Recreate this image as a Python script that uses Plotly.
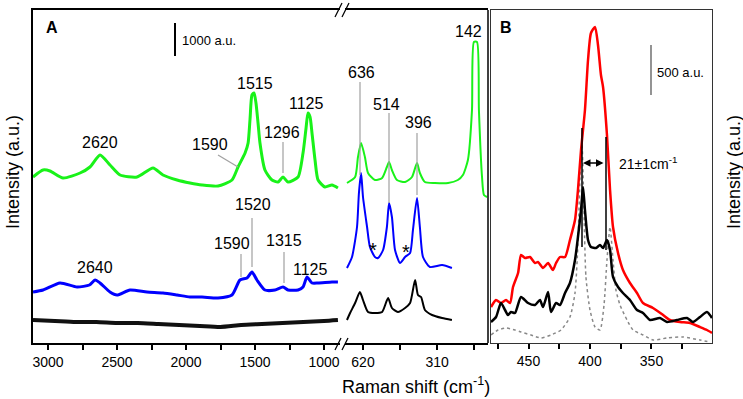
import plotly.graph_objects as go

# ---------------- data ----------------
# Panel A, left segment (3100-900 cm-1)
green_left_w = [3109, 3036, 2986, 2891, 2768, 2696, 2623, 2551, 2478, 2355, 2239, 2167, 2065, 1971,
                1884, 1768, 1667, 1623, 1572, 1550, 1536, 1522, 1507, 1493, 1478, 1464, 1428, 1377,
                1333, 1297, 1261, 1188, 1152, 1130, 1116, 1101, 1087, 1065, 1043, 993, 942, 899]
green_left_i = [4980, 5190, 5160, 4950, 5100, 5280, 5640, 5340, 5040, 4980, 5250, 5040, 4890, 4800,
                4740, 4710, 4890, 5280, 5700, 6000, 6720, 7440, 7500, 7200, 6600, 6000, 5190, 4890,
                4830, 4980, 4830, 4980, 5700, 6450, 6900, 6780, 6300, 5490, 4890, 4680, 4740, 4650]

blue_left_w = [3109, 3036, 2913, 2790, 2700, 2659, 2623, 2551, 2500, 2406, 2283, 2167, 2065, 1971,
               1884, 1768, 1667, 1609, 1558, 1522, 1486, 1428, 1355, 1297, 1261, 1188, 1152, 1123,
               1087, 1043, 942, 899]
blue_left_i = [1530, 1590, 1800, 1680, 1740, 1890, 1800, 1530, 1440, 1590, 1530, 1500, 1440, 1380,
               1380, 1350, 1440, 1890, 1950, 2130, 1890, 1590, 1590, 1680, 1590, 1590, 1680, 1980,
               1800, 1800, 1830, 1830]

black_left_w = [3109, 2950, 2800, 2650, 2500, 2350, 2200, 2050, 1900, 1750, 1600, 1450, 1300, 1150, 1000, 899]
black_left_i = [690, 660, 630, 630, 600, 600, 570, 540, 510, 480, 540, 570, 600, 630, 660, 690]

# Panel A, right segment (700-100 cm-1)
green_right_w = [687, 653, 641, 628, 612, 599, 570, 540, 520, 511, 499, 478, 444, 415, 394, 382,
                 361, 319, 264, 223, 202, 181, 164, 156, 143, 135, 122, 114, 101]
green_right_i = [4800, 4980, 5580, 6000, 5580, 5100, 4890, 4950, 5280, 5430, 5190, 4890, 4830, 4980,
                 5400, 5100, 4830, 4800, 4800, 4890, 5040, 5490, 6990, 9030, 9030, 6990, 4980, 4440, 4380]

blue_right_w = [687, 666, 645, 637, 628, 620, 603, 591, 570, 557, 536, 520, 511, 499, 486, 465, 444,
                423, 411, 394, 382, 369, 340, 289, 248]
blue_right_i = [2250, 2580, 3480, 4500, 5100, 4380, 3480, 2880, 2580, 2550, 2790, 3480, 4200, 3780,
                2790, 2400, 2580, 2700, 3390, 4350, 3480, 2580, 2280, 2340, 2250]

black_right_w = [687, 674, 653, 633, 620, 599, 570, 540, 515, 499, 474, 444, 423, 402, 390, 377,
                 361, 331, 289, 248]
black_right_i = [690, 900, 1200, 1530, 1290, 930, 900, 930, 1350, 1050, 930, 1050, 1200, 1890, 1440,
                 1380, 990, 840, 750, 690]

# Panel B (480-300 cm-1)
red_w = [480.5, 476.4, 472.4, 468.3, 465.0, 462.6, 458.5, 456.1, 452.8, 448.8, 444.7, 442.3, 438.2,
         434.1, 430.1, 427.6, 424.4, 420.3, 416.3, 412.2, 409.8, 407.3, 404.1, 401.6, 399.2, 395.9,
         393.5, 391.1, 389.4, 386.2, 383.7, 381.3, 377.2, 373.2, 367.5, 361.8, 356.9, 348.8, 340.6,
         335.0, 326.8, 318.7, 310.6, 304.9, 300.8]
red_i = [360, 430, 400, 430, 400, 560, 700, 880, 850, 860, 800, 810, 750,
         800, 730, 800, 860, 860, 1030, 1230, 1530, 1930, 2330, 2830, 3100, 3160,
         2980, 2680, 2560, 2080, 1530, 1160, 900, 730, 600, 500, 400, 350, 280,
         230, 210, 200, 160, 130, 100]

blackB_w = [480.5, 476.4, 472.4, 469.1, 466.7, 464.2, 461.0, 456.1, 450.4, 444.7, 440.7, 438.2,
            434.1, 431.7, 427.6, 424.4, 420.3, 416.3, 412.2, 409.8, 407.3, 405.7, 404.1, 401.6,
            399.2, 395.1, 391.9, 389.4, 386.2, 383.7, 381.3, 377.2, 373.2, 367.5, 361.8, 356.9,
            351.2, 343.1, 337.4, 329.3, 321.1, 316.3, 310.6, 304.9, 300.8]
blackB_i = [210, 260, 400, 330, 280, 310, 300, 460, 400, 380, 430, 360,
            510, 310, 400, 380, 500, 600, 830, 1060, 1330, 1560, 1330, 1030,
            960, 950, 980, 950, 1030, 930, 660, 560, 500, 430, 330, 300,
            230, 250, 210, 230, 250, 210, 260, 310, 250]

fit_w = [480.5, 474.8, 468.3, 461.0, 456.1, 448.0, 439.8, 431.7, 423.6, 416.3, 412.2, 409.8, 408.1,
         406.5, 404.9, 403.3, 400.0, 395.9, 391.9, 388.6, 386.2, 383.7, 381.3, 378.9, 375.6, 369.9,
         365.0, 356.9, 348.8, 337.4, 324.4, 310.6, 302.4]
fit_i = [80, 130, 150, 130, 110, 80, 50, 80, 130, 260, 500, 1000, 1660,
         1980, 1330, 660, 330, 160, 130, 380, 830, 1160, 830, 530, 380, 230,
         130, 80, 30, 50, 60, 30, 10]

tickvals_a1 = [3000, 2500, 2000, 1500, 1000]
minor_a1 = [2750, 2250, 1750, 1250]
tickvals_a2 = [620, 310]
minor_a2 = [465, 155]
tickvals_b = [450, 400, 350]
minor_b = [475, 425, 375, 325]

# ---------------- figure ----------------
W, H = 743, 399
FONT = "Arial, Liberation Sans, sans-serif"


def px(x):
    return x / W


def py(y):
    return 1 - y / H


GREEN = "#19f219"
BLUE = "#0000ff"

fig = go.Figure()


def add(x, y, xa, ya, color, width, dash="solid", shape="spline"):
    fig.add_trace(go.Scatter(x=x, y=y, xaxis=xa, yaxis=ya, mode="lines",
                             line=dict(color=color, width=width, dash=dash, shape=shape,
                                       smoothing=0.6),
                             showlegend=False, hoverinfo="skip"))


add(black_left_w, black_left_i, "x", "y", "#111111", 4)
add(blue_left_w, blue_left_i, "x", "y", BLUE, 3)
add(green_left_w, green_left_i, "x", "y", GREEN, 3)
add(black_right_w, black_right_i, "x2", "y", "black", 2)
add(blue_right_w, blue_right_i, "x2", "y", BLUE, 2)
add(green_right_w, green_right_i, "x2", "y", GREEN, 2)
add(fit_w, fit_i, "x3", "y2", "#888888", 1.5, "dot")
add(red_w, red_i, "x3", "y2", "#ff0000", 2.5)
add(blackB_w, blackB_i, "x3", "y2", "black", 2.5)

ydom = [py(343), py(10)]
tickfont = dict(family=FONT, size=14, color="black")
common_x = dict(showline=True, linecolor="black", linewidth=1.5, mirror=True, ticks="outside",
                ticklen=5, tickwidth=1.5, tickcolor="black", showgrid=False, zeroline=False,
                tickfont=tickfont, tickmode="array")


def minor(vals):
    return dict(tickmode="array", tickvals=vals, ticks="outside", ticklen=5, tickwidth=1.5,
                tickcolor="black", showgrid=False)


fig.update_layout(
    width=W, height=H, margin=dict(l=0, r=0, t=0, b=0),
    paper_bgcolor="white", plot_bgcolor="white",
    xaxis=dict(domain=[px(33), px(340)], range=[3109, 884], anchor="y",
               tickvals=tickvals_a1, minor=minor(minor_a1), **common_x),
    xaxis2=dict(domain=[px(345), px(488)], range=[695.3, 97.0], anchor="y",
                tickvals=tickvals_a2, minor=minor(minor_a2), **common_x),
    xaxis3=dict(domain=[px(491), px(712)], range=[480.5, 300.8], anchor="y2",
                tickvals=tickvals_b, minor=minor(minor_b),
                **{**common_x, "linecolor": "#333333", "linewidth": 1.2}),
    yaxis=dict(domain=ydom, range=[0, 9990], anchor="x", showticklabels=False, ticks="",
               showline=True, linecolor="black", linewidth=1.5, showgrid=False, zeroline=False),
    yaxis2=dict(domain=ydom, range=[0, 3330], anchor="x3", showticklabels=False, ticks="",
                showline=True, mirror=True, linecolor="#333333", linewidth=1.2,
                showgrid=False, zeroline=False),
)

shapes = []


def seg(x0, y0, x1, y1, color="black", width=1.5, dash="solid"):
    shapes.append(dict(type="line", xref="paper", yref="paper", x0=px(x0), y0=py(y0),
                       x1=px(x1), y1=py(y1), line=dict(color=color, width=width, dash=dash)))


# right border of panel A
seg(488, 10, 488, 343, "black", 1.5)
# axis-break marks
for dx in (0, 7):
    seg(335 + dx, 17, 342 + dx, 3, "black", 1.3)
    seg(335 + dx, 350, 341 + dx, 338, "black", 1.3)
# scale bars
seg(175, 23, 175, 56, "black", 2)
seg(651, 45, 651, 95, "#888888", 1.8)
# leader lines (grey)
GREY = "#a0a0a0"
seg(218, 155, 238, 167, GREY, 1.2)
seg(283, 142, 283, 173, GREY, 1.2)
seg(241, 254, 241, 277, GREY, 1.2)
seg(252, 218, 252, 267, GREY, 1.2)
seg(284, 252, 284, 283, GREY, 1.2)
seg(360, 82, 360, 175, GREY, 1.2)
seg(389, 113, 389, 203, GREY, 1.2)
seg(417, 133, 417, 195, GREY, 1.2)
# FWHM markers in panel B
seg(582, 128, 582, 247, "black", 1.5)
seg(606, 137, 606, 250, "black", 1.5)
fig.update_layout(shapes=shapes)

anns = []


def txt(x, y, s, size=16, bold=False, angle=0, xanchor="center"):
    anns.append(dict(x=px(x), y=py(y), xref="paper", yref="paper", text=("<b>%s</b>" % s) if bold else s,
                     showarrow=False, xanchor=xanchor, yanchor="middle", textangle=angle,
                     font=dict(family=FONT, size=size, color="black")))


txt(52, 27, "A", 16, True)
txt(506, 27, "B", 16, True)
txt(180, 41, "1000 a.u.", 13, xanchor="left")
txt(655, 72, "500 a.u.", 13, xanchor="left")
txt(617, 163, "21±1cm<sup>-1</sup>", 14, xanchor="left")
# peak labels
txt(100, 142, "2620")
txt(210, 145, "1590")
txt(255, 83, "1515")
txt(282, 132, "1296")
txt(306, 103, "1125")
txt(95, 267, "2640")
txt(232, 243, "1590")
txt(253, 204, "1520")
txt(284, 240, "1315")
txt(310, 269, "1125")
txt(361, 72, "636")
txt(387, 104, "514")
txt(418, 122, "396")
txt(468, 31, "142")
txt(373, 250, "*", 20)
txt(406, 252, "*", 20)
# axis titles
txt(416, 385, "Raman shift (cm<sup>-1</sup>)", 18)
txt(13, 172, "Intensity (a.u.)", 18, angle=-90)
txt(734, 172, "Intensity (a.u.)", 18, angle=-90)

# double arrow for FWHM
anns.append(dict(x=px(583), y=py(163), ax=22, ay=0, xref="paper", yref="paper",
                 axref="pixel", ayref="pixel", text="", showarrow=True, arrowhead=2,
                 startarrowhead=2, arrowside="end+start", arrowwidth=1.5, arrowcolor="black",
                 arrowsize=1, startarrowsize=1))
fig.update_layout(annotations=anns)

fig.write_html("out.html", config={"displayModeBar": False},
               post_script="document.body.style.margin='0';document.body.style.overflow='hidden';")
